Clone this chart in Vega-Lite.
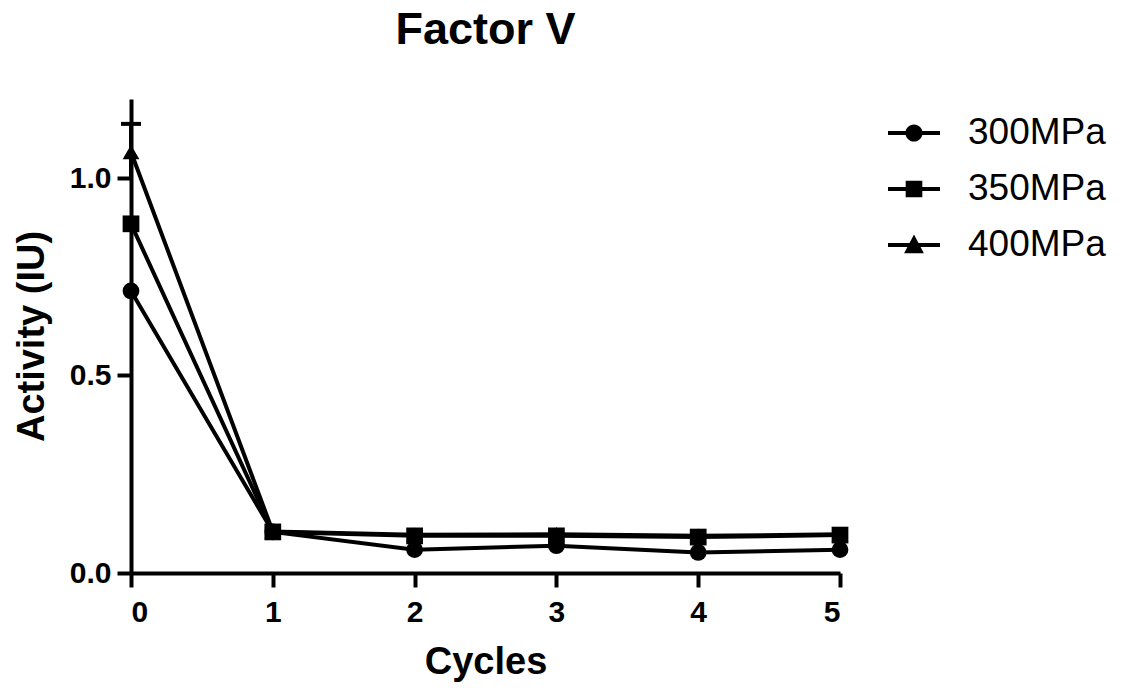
{
  "$schema": "https://vega.github.io/schema/vega-lite/v6.json",
  "width": 709,
  "height": 474,
  "autosize": {"type": "none"},
  "padding": {"left": 131, "top": 99, "right": 290, "bottom": 115},
  "background": "white",
  "title": {"text": "Factor V", "font": "Liberation Sans", "fontSize": 45, "fontWeight": "bold", "color": "black", "anchor": "middle", "offset": 46},
  "config": {
    "view": {"stroke": null},
    "axis": {
      "domainColor": "black", "domainWidth": 4, "tickColor": "black", "tickWidth": 4, "tickSize": 14,
      "labelFont": "Liberation Sans", "labelFontWeight": "bold", "labelFontSize": 30, "labelColor": "black",
      "titleFont": "Liberation Sans", "titleFontWeight": "bold", "titleFontSize": 38, "titleColor": "black",
      "grid": false
    }
  },
  "data": {"values": [
    {"cycle": 0, "series": "300MPa", "activity": 0.714},
    {"cycle": 1, "series": "300MPa", "activity": 0.104},
    {"cycle": 2, "series": "300MPa", "activity": 0.059},
    {"cycle": 3, "series": "300MPa", "activity": 0.069},
    {"cycle": 4, "series": "300MPa", "activity": 0.052},
    {"cycle": 5, "series": "300MPa", "activity": 0.059},
    {"cycle": 0, "series": "350MPa", "activity": 0.884},
    {"cycle": 1, "series": "350MPa", "activity": 0.104},
    {"cycle": 2, "series": "350MPa", "activity": 0.094},
    {"cycle": 3, "series": "350MPa", "activity": 0.094},
    {"cycle": 4, "series": "350MPa", "activity": 0.091},
    {"cycle": 5, "series": "350MPa", "activity": 0.096},
    {"cycle": 0, "series": "400MPa", "activity": 1.066, "lo": 0.995, "hi": 1.137},
    {"cycle": 1, "series": "400MPa", "activity": 0.105},
    {"cycle": 2, "series": "400MPa", "activity": 0.097},
    {"cycle": 3, "series": "400MPa", "activity": 0.098},
    {"cycle": 4, "series": "400MPa", "activity": 0.094},
    {"cycle": 5, "series": "400MPa", "activity": 0.098}
  ]},
  "layer": [
    {
      "mark": {"type": "line", "color": "black", "strokeWidth": 4},
      "encoding": {
        "x": {"field": "cycle", "type": "quantitative", "scale": {"domain": [0, 5], "nice": false, "zero": false},
              "axis": {"values": [0, 1, 2, 3, 4, 5], "format": "d", "title": "Cycles", "labelPadding": 10, "titlePadding": 16}},
        "y": {"field": "activity", "type": "quantitative", "scale": {"domain": [0, 1.2], "nice": false},
              "axis": {"values": [0, 0.5, 1], "format": ".1f", "title": "Activity (IU)", "labelPadding": 6, "titlePadding": 18}},
        "detail": {"field": "series"}
      }
    },
    {
      "transform": [{"filter": "isValid(datum.hi)"}],
      "mark": {"type": "rule", "color": "black", "strokeWidth": 4, "opacity": 1},
      "encoding": {
        "x": {"field": "cycle", "type": "quantitative"},
        "y": {"field": "hi", "type": "quantitative"},
        "y2": {"field": "lo"}
      }
    },
    {
      "transform": [{"filter": "isValid(datum.hi)"}],
      "mark": {"type": "tick", "orient": "horizontal", "color": "black", "opacity": 1, "thickness": 4, "size": 20},
      "encoding": {
        "x": {"field": "cycle", "type": "quantitative"},
        "y": {"field": "hi", "type": "quantitative"}
      }
    },
    {
      "mark": {"type": "point", "filled": true, "color": "black", "opacity": 1, "size": 280},
      "encoding": {
        "x": {"field": "cycle", "type": "quantitative"},
        "y": {"field": "activity", "type": "quantitative"},
        "shape": {"field": "series", "type": "nominal",
                  "scale": {"domain": ["300MPa", "350MPa", "400MPa"], "range": ["circle", "square", "triangle-up"]},
                  "legend": null}
      }
    },
    {
      "transform": [{"filter": "datum.cycle < 0"}],
      "mark": {"type": "point", "filled": true, "color": "black", "opacity": 1},
      "encoding": {
        "x": {"field": "cycle", "type": "quantitative"},
        "y": {"field": "activity", "type": "quantitative"},
        "shape": {"field": "series", "type": "nominal",
                  "scale": {"domain": ["300MPa", "350MPa", "400MPa"],
                            "range": [
                              "M-1,-0.075H1V0.075H-1ZM0.33,0A0.33,0.33,0,1,1,-0.33,0A0.33,0.33,0,1,1,0.33,0Z",
                              "M-1,-0.075H1V0.075H-1ZM-0.32,-0.32H0.32V0.32H-0.32Z",
                              "M-1,-0.075H1V0.075H-1ZM0,-0.4L0.38,0.32H-0.38Z"
                            ]},
                  "legend": {"title": null, "orient": "none", "legendX": 757, "legendY": 8,
                             "symbolSize": 2704, "symbolStrokeWidth": 0, "symbolFillColor": "black", "symbolOpacity": 1,
                             "labelFont": "Liberation Sans", "labelFontSize": 37, "labelColor": "black", "labelOffset": 28, "rowPadding": 12}}
      }
    }
  ],
  "resolve": {"scale": {"shape": "independent"}, "legend": {"shape": "independent"}}
}
